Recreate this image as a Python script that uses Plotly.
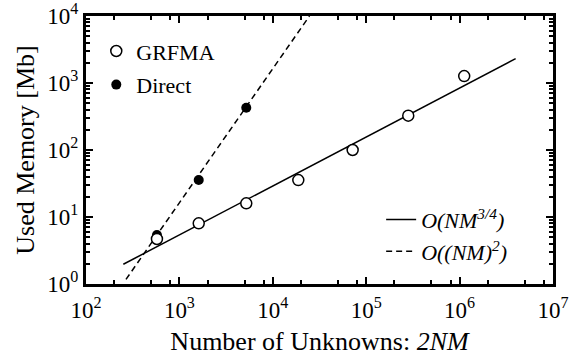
import plotly.graph_objects as go

# ---- data ----
grfma_x = [575, 1610, 5200, 18750, 71600, 282000, 1120000]
grfma_y = [4.7, 8.05, 16, 35.6, 100, 325, 1270]

direct_x = [575, 1610, 5200]
direct_y = [5.4, 35.7, 428]

fit34_x = [251, 3.98e6]
fit34_y = [1.97, 2306]

fit2_x = [268, 24700]
fit2_y = [1.17, 10000]

x_tickvals = [1e2, 1e3, 1e4, 1e5, 1e6, 1e7]
x_exps = ["2", "3", "4", "5", "6", "7"]
y_tickvals = [1e0, 1e1, 1e2, 1e3, 1e4]
y_exps = ["0", "1", "2", "3", "4"]

x_minor = [m * 10 ** e for e in range(2, 7) for m in (2, 5, 8)]
y_minor = [m * 10 ** e for e in range(0, 4) for m in range(2, 10)]

FONT = "Liberation Serif, Times New Roman, Times, serif"


def pow_label(e):
    return "10<sup>" + e + "</sup>"


fig = go.Figure()
fig.add_trace(go.Scatter(x=fit34_x, y=fit34_y, mode="lines",
                         line=dict(color="black", width=1.5),
                         name="<i>O(NM<sup>3/4</sup>)</i>", legend="legend2",
                         legendgroup="a"))
fig.add_trace(go.Scatter(x=fit2_x, y=fit2_y, mode="lines",
                         line=dict(color="black", width=1.5, dash="6px,4px"),
                         name="<i>O((NM)<sup>2</sup>)</i>", legend="legend2",
                         legendgroup="b"))
fig.add_trace(go.Scatter(x=direct_x, y=direct_y, mode="markers",
                         marker=dict(symbol="circle", size=10, color="black"),
                         name="Direct", legend="legend", legendrank=2,
                         legendgroup="c"))
fig.add_trace(go.Scatter(x=grfma_x, y=grfma_y, mode="markers",
                         marker=dict(symbol="circle", size=11, color="white",
                                     line=dict(color="black", width=1.5)),
                         name="GRFMA", legend="legend", legendrank=1,
                         legendgroup="d"))

axis_common = dict(
    type="log", showgrid=False, zeroline=False, automargin=False,
    showline=True, linecolor="black", linewidth=3, mirror="allticks",
    ticks="inside", ticklen=7, tickwidth=2, tickcolor="black",
    tickmode="array", ticklabeloverflow="allow",
    tickfont=dict(family=FONT, size=23, color="black"),
)

fig.update_layout(
    width=581, height=356,
    margin=dict(l=86, r=28, t=16, b=72),
    paper_bgcolor="white", plot_bgcolor="white",
    font=dict(family=FONT, size=22, color="black"),
    xaxis=dict(**axis_common, range=[2, 7], ticklabelstandoff=3,
               tickvals=x_tickvals, ticktext=[pow_label(e) for e in x_exps],
               minor=dict(tickmode="array", tickvals=x_minor, ticks="inside",
                          ticklen=4, tickwidth=2, tickcolor="black"),
               title=dict(text="Number of Unknowns: <i>2NM</i>",
                          font=dict(family=FONT, size=26), standoff=16)),
    yaxis=dict(**axis_common, range=[0, 4],
               tickvals=y_tickvals, ticktext=[pow_label(e) for e in y_exps],
               minor=dict(tickmode="array", tickvals=y_minor, ticks="inside",
                          ticklen=4, tickwidth=2, tickcolor="black"),
               title=dict(text="Used Memory [Mb]",
                          font=dict(family=FONT, size=26), standoff=6)),
    legend=dict(x=0.022, y=0.947, xanchor="left", yanchor="top",
                bgcolor="rgba(0,0,0,0)", traceorder="grouped", tracegroupgap=2,
                font=dict(family=FONT, size=22)),
    legend2=dict(x=0.632, y=0.318, xanchor="left", yanchor="top",
                 bgcolor="rgba(0,0,0,0)", traceorder="grouped", tracegroupgap=0,
                 font=dict(family=FONT, size=22)),
    showlegend=True,
)

fig.write_html("out.html", config={"displayModeBar": False},
               post_script="document.body.style.margin='0';")
